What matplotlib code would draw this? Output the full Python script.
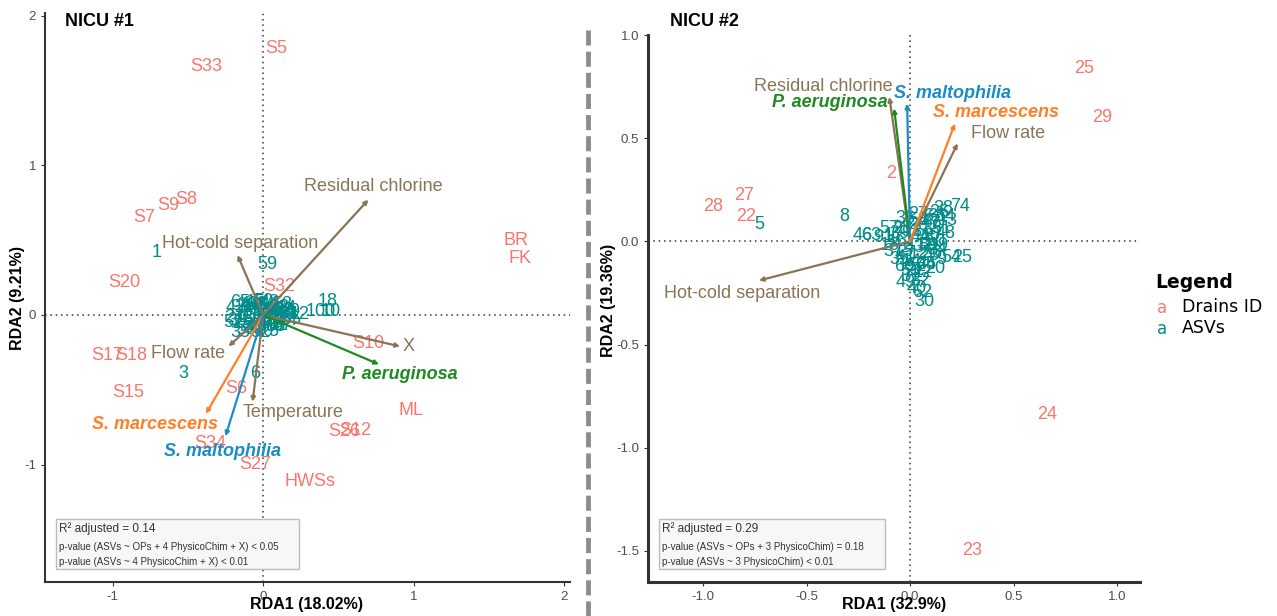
import numpy as np
import matplotlib.pyplot as plt
from matplotlib.lines import Line2D
from matplotlib.patches import Rectangle

plt.rcParams['font.family'] = ['Liberation Sans', 'DejaVu Sans']
plt.rcParams['axes.unicode_minus'] = False

pink = '#F8766D'
teal = '#008B8B'
brown = '#8B7355'
green = '#1F8A1F'
orange = '#FF7F27'
blue = '#1A8CC6'

# ---- NICU #1 ----
drain1 = ['S5', 'S33', 'S8', 'S9', 'S7', 'BR', 'FK', 'S20', 'S32', 'S10',
          'S17', 'S18', 'S15', 'S6', 'ML', 'S26', 'S12', 'S34', 'S27', 'HWSs']
drain1_x = [0.09, -0.38, -0.51, -0.63, -0.79, 1.68, 1.71, -0.92, 0.11, 0.70,
            -1.04, -0.88, -0.90, -0.18, 0.98, 0.54, 0.61, -0.35, -0.05, 0.31]
drain1_y = [1.78, 1.66, 0.77, 0.73, 0.65, 0.50, 0.38, 0.22, 0.19, -0.19,
            -0.27, -0.27, -0.52, -0.49, -0.64, -0.78, -0.77, -0.86, -1.00, -1.11]

asv1 = ['1', '59', '3', '6', '18', '10', '100', '12', '29', '15', '50', '56',
        '35', '52', '5', '27', '7', '4', '2', '9', '11', '13', '14', '16',
        '17', '19', '21', '22', '23', '24', '25', '26', '28', '30', '31', '32',
        '33', '34', '36', '37', '38', '39', '40', '41',
        '42', '43', '44', '45', '46', '47', '48', '49', '51', '53', '54', '55',
        '57', '58', '60', '61', '62', '63', '64', '65']
asv1_x = [-0.71, 0.03, -0.53, -0.05, 0.43, 0.45, 0.38, 0.24, 0.18, -0.05, 0.0, 0.03,
          -0.15, -0.02, 0.07, -0.19, -0.16, -0.12, 0.09, -0.10, -0.08, -0.06, -0.03, 0.0,
          0.03, 0.06, 0.09, 0.12, 0.14, 0.16, -0.14, -0.11, -0.04, 0.02, 0.05, 0.11,
          -0.01, 0.04, 0.08, 0.13, -0.07, -0.17, 0.15, 0.01,
          -0.18, -0.13, -0.09, -0.05, -0.02, 0.01, 0.04, 0.07, 0.10, 0.13, 0.17, 0.19,
          -0.20, -0.11, 0.0, 0.05, 0.11, -0.07, 0.15, -0.15]
asv1_y = [0.42, 0.34, -0.39, -0.39, 0.09, 0.02, 0.02, 0.00, 0.02, 0.08, 0.09, 0.06,
          -0.12, -0.12, -0.11, -0.02, 0.01, 0.04, -0.05, -0.07, 0.0, 0.05, -0.04, 0.03,
          -0.02, 0.02, 0.04, -0.02, 0.03, -0.04, -0.06, 0.06, 0.07, -0.08, -0.06, 0.05,
          0.0, 0.03, -0.08, -0.07, -0.09, -0.04, 0.0, -0.03,
          0.05, -0.02, 0.07, -0.08, 0.06, -0.05, 0.08, -0.01, -0.07, 0.07, 0.0, -0.03,
          -0.05, -0.10, -0.11, -0.03, 0.01, 0.02, 0.04, 0.08]

env1 = ['Residual chlorine', 'Hot-cold separation', 'X', 'Flow rate', 'Temperature']
env1_x = [0.70, -0.17, 0.91, -0.23, -0.07]
env1_y = [0.77, 0.40, -0.21, -0.21, -0.58]

sp1 = ['P. aeruginosa', 'S. marcescens', 'S. maltophilia']
sp1_x = [0.77, -0.38, -0.25]
sp1_y = [-0.33, -0.66, -0.81]

# ---- NICU #2 ----
drain2 = ['25', '29', '2', '27', '28', '22', '24', '23']
drain2_x = [0.84, 0.93, -0.09, -0.80, -0.95, -0.79, 0.66, 0.30]
drain2_y = [0.84, 0.60, 0.33, 0.22, 0.17, 0.12, -0.84, -1.50]

asv2 = ['5', '8', '74', '38', '36', '46', '63', '91', '49', '40', '62', '30',
        '54', '25', '20', '9', '13', '48', '19', '1', '3', '4', '6', '7',
        '10', '11', '12', '14', '15', '16', '17', '18', '21', '22', '23', '24',
        '26', '27', '28', '31', '32', '33', '34', '35',
        '37', '39', '41', '42', '43', '44', '45', '47', '50', '51', '52', '53',
        '55', '56', '57', '58', '59', '60', '61', '64']
asv2_x = [-0.73, -0.32, 0.24, 0.16, -0.02, -0.23, -0.19, -0.13, -0.02, 0.03, 0.06, 0.07,
          0.20, 0.25, 0.12, 0.15, 0.18, 0.17, 0.14, 0.0, 0.03, 0.06, 0.09, 0.12,
          0.10, 0.07, 0.04, 0.01, -0.03, -0.06, -0.08, -0.10, 0.02, 0.06, 0.09, 0.13,
          0.14, 0.04, -0.04, 0.0, 0.05, 0.11, 0.08, -0.05,
          -0.08, -0.05, -0.02, 0.0, 0.02, 0.05, 0.08, 0.10, 0.12, 0.15, 0.03, 0.0,
          0.07, 0.11, -0.10, 0.04, 0.09, -0.03, 0.13, 0.17]
asv2_y = [0.08, 0.12, 0.17, 0.16, 0.11, 0.03, 0.03, 0.02, -0.20, -0.23, -0.25, -0.29,
          -0.08, -0.08, -0.13, -0.09, 0.10, 0.04, -0.02, 0.0, 0.05, 0.10, 0.12, 0.08,
          0.03, -0.02, -0.06, -0.10, -0.05, 0.0, 0.03, -0.02, -0.14, -0.15, -0.07, -0.04,
          0.14, 0.13, 0.06, -0.17, -0.19, 0.06, -0.11, -0.09,
          -0.05, 0.04, -0.08, 0.08, -0.03, 0.02, -0.11, 0.09, 0.0, 0.06, -0.12, -0.14,
          0.05, -0.06, 0.06, 0.10, -0.02, -0.12, 0.12, 0.12]

env2 = ['Residual chlorine', 'Flow rate', 'Hot-cold separation']
env2_x = [-0.10, 0.23, -0.73]
env2_y = [0.70, 0.475, -0.19]

sp2 = ['P. aeruginosa', 'S. maltophilia', 'S. marcescens']
sp2_x = [-0.077, -0.014, 0.217]
sp2_y = [0.644, 0.668, 0.571]

# label offsets from arrow tips (layout only)
env1_off = [(0.03, 0.09), (0.02, 0.08), (0.06, 0.0), (-0.27, -0.05), (0.27, -0.07)]
sp1_off = [(0.14, -0.07), (-0.34, -0.075), (-0.02, -0.105)]
env2_off = [(-0.32, 0.05), (0.245, 0.048), (-0.08, -0.063)]
sp2_off = [(-0.31, 0.03), (0.22, 0.05), (0.20, 0.054)]

W, H = 1277, 616
fig = plt.figure(figsize=(W / 100, H / 100), dpi=100)
ax1 = fig.add_axes([45 / W, 1 - 582 / H, (570 - 45) / W, (582 - 13) / H])
ax2 = fig.add_axes([648 / W, 1 - 582 / H, (1140 - 648) / W, (582 - 35) / H])


def base(ax, xlim, ylim, xt, yt, xtl, ytl, lw):
    ax.set_xlim(*xlim)
    ax.set_ylim(*ylim)
    ax.axhline(0, color='#333333', ls=(0, (1, 2.5)), lw=1.1, zorder=1)
    ax.axvline(0, color='#333333', ls=(0, (1, 2.5)), lw=1.1, zorder=1)
    for s in ['top', 'right']:
        ax.spines[s].set_visible(False)
    for s in ['left', 'bottom']:
        ax.spines[s].set_color('#333333')
        ax.spines[s].set_linewidth(lw)
    ax.set_xticks(xt)
    ax.set_xticklabels(xtl)
    ax.set_yticks(yt)
    ax.set_yticklabels(ytl)
    ax.tick_params(colors='#333333', labelcolor='#4D4D4D', labelsize=9.5, length=3, width=0.8)


base(ax1, (-1.45, 2.04), (-1.784, 2.017), [-1, 0, 1, 2], [-1, 0, 1, 2],
     ['-1', '0', '1', '2'], ['-1', '0', '1', '2'], 1.5)
base(ax2, (-1.266, 1.111), (-1.651, 0.998), [-1, -0.5, 0, 0.5, 1], [-1.5, -1, -0.5, 0, 0.5, 1],
     ['-1.0', '-0.5', '0.0', '0.5', '1.0'], ['-1.5', '-1.0', '-0.5', '0.0', '0.5', '1.0'], 2.2)


def arrows(ax, names, xs, ys, offs, colors, bold):
    for n, x, y, o, c in zip(names, xs, ys, offs, colors):
        ax.annotate('', xy=(x, y), xytext=(0, 0),
                    arrowprops=dict(arrowstyle='-|>', color=c, lw=1.6, mutation_scale=6,
                                    shrinkA=0, shrinkB=0), zorder=4)
        if bold:
            ax.text(x + o[0], y + o[1], n, color=c, fontsize=13, fontweight='bold',
                    fontstyle='italic', ha='center', va='center', zorder=5)
        else:
            ax.text(x + o[0], y + o[1], n, color=c, fontsize=13, ha='center', va='center', zorder=5)


for ax, ax_ids, ax_x, ax_y in [(ax1, asv1, asv1_x, asv1_y), (ax2, asv2, asv2_x, asv2_y)]:
    for t, x, y in zip(ax_ids, ax_x, ax_y):
        ax.text(x, y, t, color=teal, fontsize=13, ha='center', va='center', zorder=2)

for t, x, y in zip(drain1, drain1_x, drain1_y):
    ax1.text(x, y, t, color=pink, fontsize=13, ha='center', va='center', zorder=3)
for t, x, y in zip(drain2, drain2_x, drain2_y):
    ax2.text(x, y, t, color=pink, fontsize=13, ha='center', va='center', zorder=3)

arrows(ax1, env1, env1_x, env1_y, env1_off, [brown] * 5, False)
arrows(ax1, sp1, sp1_x, sp1_y, sp1_off, [green, orange, blue], True)
arrows(ax2, env2, env2_x, env2_y, env2_off, [brown] * 3, False)
arrows(ax2, sp2, sp2_x, sp2_y, sp2_off, [green, blue, orange], True)

# titles and axis labels
fig.text(65 / W, 1 - 22 / H, 'NICU #1', fontsize=13, fontweight='bold', va='center')
fig.text(670 / W, 1 - 22 / H, 'NICU #2', fontsize=13, fontweight='bold', va='center')
fig.text(307 / W, 1 - 605 / H, 'RDA1 (18.02%)', fontsize=11.5, fontweight='bold', ha='center', va='center')
fig.text(894 / W, 1 - 605 / H, 'RDA1 (32.9%)', fontsize=11.5, fontweight='bold', ha='center', va='center')
fig.text(18 / W, 1 - 298 / H, 'RDA2 (9.21%)', fontsize=11.5, fontweight='bold', ha='center', va='center', rotation=90)
fig.text(609 / W, 1 - 300 / H, 'RDA2 (19.36%)', fontsize=11.5, fontweight='bold', ha='center', va='center', rotation=90)

# statistics boxes
boxes = [(56, 299, ['R² adjusted = 0.14', 'p-value (ASVs ~ OPs + 4 PhysicoChim + X) < 0.05',
                    'p-value (ASVs ~ 4 PhysicoChim + X) < 0.01']),
         (659, 885, ['R² adjusted = 0.29', 'p-value (ASVs ~ OPs + 3 PhysicoChim) = 0.18',
                     'p-value (ASVs ~ 3 PhysicoChim) < 0.01'])]
for x0, x1, lines in boxes:
    fig.add_artist(Rectangle((x0 / W, 1 - 569 / H), (x1 - x0) / W, 50 / H, transform=fig.transFigure,
                             facecolor='#F7F7F7', edgecolor='#BDBDBD', lw=1))
    fig.text((x0 + 3) / W, 1 - 529 / H, lines[0], fontsize=8.5, color='#333333', va='center')
    fig.text((x0 + 3) / W, 1 - 547 / H, lines[1], fontsize=7, color='#333333', va='center')
    fig.text((x0 + 3) / W, 1 - 562 / H, lines[2], fontsize=7, color='#333333', va='center')

# separator
fig.add_artist(Line2D([588 / W, 588 / W], [0, 1 - 28 / H], transform=fig.transFigure,
                      color='#8C8C8C', lw=3.5, dashes=(3.1, 1.25)))

# legend
fig.text(1155 / W, 1 - 283 / H, 'Legend', fontsize=13.5, fontweight='bold', family='DejaVu Sans', va='center')
fig.text(1162 / W, 1 - 308 / H, 'a', fontsize=12, color=pink, family='DejaVu Sans', ha='center', va='center')
fig.text(1182 / W, 1 - 307 / H, 'Drains ID', fontsize=12.5, family='DejaVu Sans', va='center')
fig.text(1162 / W, 1 - 329 / H, 'a', fontsize=12, color=teal, family='DejaVu Sans', ha='center', va='center')
fig.text(1182 / W, 1 - 328 / H, 'ASVs', fontsize=12.5, family='DejaVu Sans', va='center')

plt.savefig('out.png', dpi=100)
